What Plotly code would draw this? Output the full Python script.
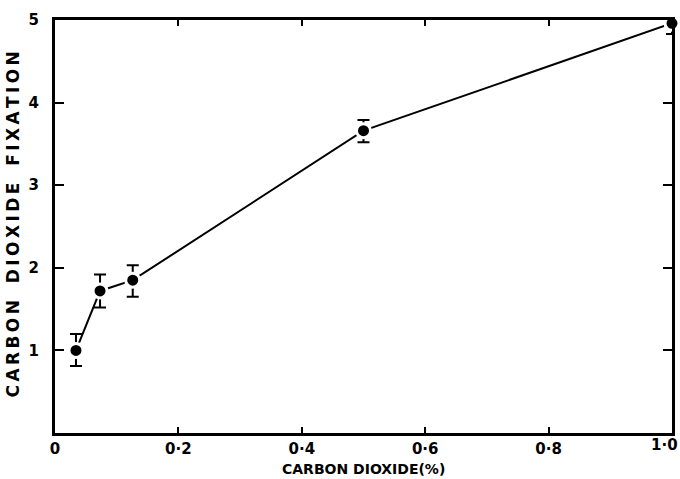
import plotly.graph_objects as go

co2_pct = [0.034, 0.073, 0.126, 0.5, 1.0]
fixation = [1.0, 1.72, 1.85, 3.66, 4.96]
err_plus = [0.2, 0.2, 0.18, 0.13, 0.16]
err_minus = [0.19, 0.2, 0.2, 0.14, 0.13]

x_tickvals = [0, 0.2, 0.4, 0.6, 0.8, 1.0]
x_ticktext = ["0", "0·2", "0·4", "0·6", "0·8", "1·0"]
y_tickvals = [1, 2, 3, 4, 5]
y_ticktext = ["1", "2", "3", "4", "5"]

FONT = "DejaVu Sans"
TICKFONT = dict(family=FONT, size=15, color="black", weight="bold")

def spaced(s, gap="\u2009", word_gap="\u2003"):
    return word_gap.join(gap.join(w) for w in s.split(" "))

fig = go.Figure()
fig.add_trace(go.Scatter(
    x=co2_pct, y=fixation, mode="lines+markers",
    line=dict(color="black", width=2),
    marker=dict(color="black", size=14, line=dict(color="white", width=3)),
    error_y=dict(type="data", symmetric=False, array=err_plus, arrayminus=err_minus,
                 color="black", thickness=2, width=6),
    cliponaxis=False, showlegend=False,
))

axis_common = dict(showline=True, linecolor="black", linewidth=3, mirror="allticks",
                   ticks="inside", tickcolor="black", tickwidth=2, showgrid=False,
                   zeroline=False, automargin=False, tickfont=TICKFONT)

# last x tick label is placed as an annotation anchored right so it stays inside the page
fig.update_xaxes(range=[0, 1.0], tickvals=x_tickvals,
                 ticktext=x_ticktext[:-1] + [""], ticklen=6,
                 ticklabelstandoff=0, **axis_common)
fig.update_yaxes(range=[0, 5], tickvals=y_tickvals, ticktext=y_ticktext, ticklen=9,
                 ticklabelstandoff=10, **axis_common)

fig.add_annotation(text=x_ticktext[-1], xref="x", yref="paper", x=x_tickvals[-1], y=0,
                   xanchor="right", yanchor="top", xshift=8, yshift=-1, showarrow=False,
                   font=TICKFONT)

fig.add_annotation(text=spaced("CARBON DIOXIDE FIXATION"),
                   xref="paper", yref="paper", x=-0.068, y=0.505, textangle=-90,
                   showarrow=False, xanchor="center", yanchor="middle",
                   font=dict(family=FONT, size=17, color="black", weight="bold"))
fig.add_annotation(text="CARBON DIOXIDE(%)", xref="paper", yref="paper",
                   x=0.5, y=-0.088, showarrow=False, xanchor="center", yanchor="middle",
                   font=dict(family=FONT, size=14, color="black", weight="bold"))

fig.update_layout(width=680, height=479, margin=dict(l=55, r=8, t=20, b=46),
                  plot_bgcolor="white", paper_bgcolor="white")

fig.write_html("out.html")
